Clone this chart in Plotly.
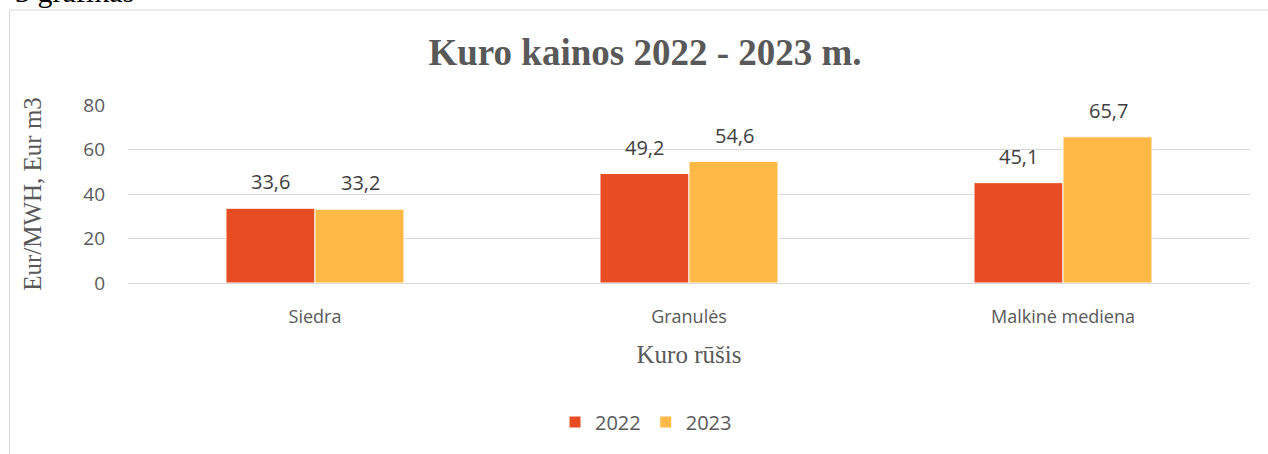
import plotly.graph_objects as go

categories = ["Siedra", "Granulės", "Malkinė mediena"]
series_names = ["2022", "2023"]
values_2022 = [33.6, 49.2, 45.1]
values_2023 = [33.2, 54.6, 65.7]
y_ticks = [0, 20, 40, 60, 80]

colors = ["#E84C22", "#FFB946"]

W, H = 1268, 454
L, R, T, B = 128, 18, 105, 171
pw, ph = W - L - R, H - T - B

def px_x(x):
    return (x - L) / pw

def px_y(y):
    return (H - B - y) / ph

SERIF = "Liberation Serif, Times New Roman, serif"
SANS = "Open Sans, sans-serif"

fig = go.Figure()
for name, vals, col in zip(series_names, [values_2022, values_2023], colors):
    fig.add_trace(go.Bar(
        x=categories, y=vals, name=name,
        marker=dict(color=col, line=dict(color="white", width=1)),
    ))

# data labels, placed above each bar
annotations = []
group_half = 45  # pixel offset of each bar centre from the category centre
for i, vals in enumerate([values_2022, values_2023]):
    shift = -group_half if i == 0 else group_half
    for c, v in zip(categories, vals):
        annotations.append(dict(
            x=c, y=v, xref="x", yref="y", xshift=shift, yshift=11,
            text=f"{v:.1f}".replace(".", ","), showarrow=False,
            xanchor="center", yanchor="bottom",
            font=dict(family=SANS, size=20, color="#404040"),
        ))

annotations.append(dict(
    text="3 grafikas", xref="paper", yref="paper", x=px_x(13), y=px_y(-8), xanchor="left",
    yanchor="middle", showarrow=False,
    font=dict(family=SERIF, size=30, color="black"),
))

fig.update_layout(
    width=W, height=H,
    margin=dict(l=L, r=R, t=T, b=B),
    paper_bgcolor="white", plot_bgcolor="white",
    barmode="group", bargap=0.524, bargroupgap=0.0,
    showlegend=True,
    legend=dict(orientation="h", x=px_x(646), xanchor="center", y=px_y(422), yanchor="middle",
                font=dict(family=SANS, size=20, color="#595959"),
                traceorder="normal"),
    title=dict(text="<b>Kuro kainos 2022 - 2023 m.</b>", x=px_x(645) * pw / W + L / W, xanchor="center",
               y=1 - 52 / H, yanchor="middle",
               font=dict(family=SERIF, size=37, color="#595959")),
    xaxis=dict(
        showgrid=False, showline=False, ticks="",
        ticklabelstandoff=21,
        tickfont=dict(family=SANS, size=18, color="#595959"),
        title=dict(text="Kuro rūšis", standoff=18,
                   font=dict(family=SERIF, size=25, color="#595959")),
    ),
    yaxis=dict(
        range=[0, 80], tickvals=y_ticks, showgrid=True, gridcolor="#D9D9D9", gridwidth=1,
        zeroline=True, zerolinecolor="#D9D9D9", zerolinewidth=1, showline=False, ticks="",
        ticklabelstandoff=22,
        tickfont=dict(family=SANS, size=19, color="#595959"),
        title=dict(text="Eur/MWH, Eur m3", standoff=34,
                   font=dict(family=SERIF, size=25, color="#595959")),
    ),
    shapes=[
        dict(type="line", xref="paper", yref="paper", x0=px_x(9.5), x1=px_x(9.5), y0=px_y(10), y1=px_y(460),
             line=dict(color="#D9D9D9", width=1)),
        dict(type="line", xref="paper", yref="paper", x0=px_x(9.5), x1=px_x(1275), y0=px_y(10), y1=px_y(10),
             line=dict(color="#D9D9D9", width=1)),
    ],
    annotations=annotations,
)

fig.write_html("out.html", config={"displayModeBar": False},
               post_script="document.body.style.margin='0';document.body.style.overflow='hidden';")
